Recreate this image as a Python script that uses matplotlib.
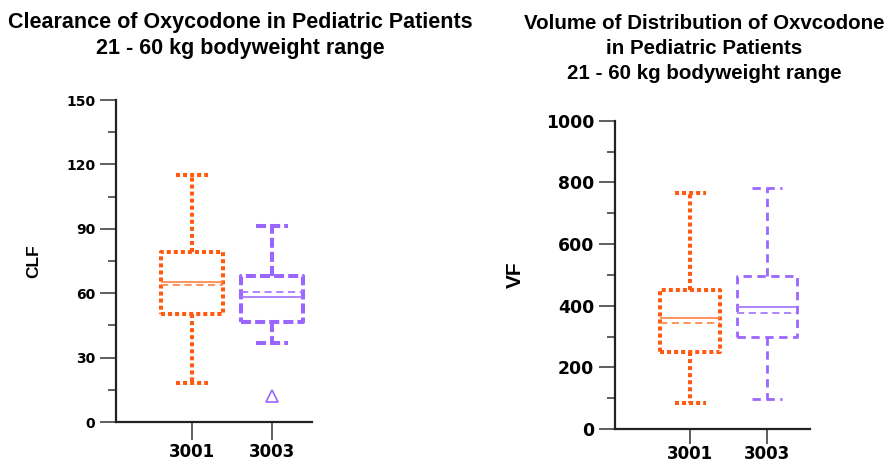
import matplotlib
matplotlib.use("Agg")
import matplotlib.pyplot as plt

groups = ["3001", "3003"]

# clearance (CLF)
clf_q1 = [50.3, 46.7]
clf_med = [65.0, 58.2]
clf_q3 = [79.0, 68.0]
clf_lo = [18.0, 36.6]
clf_hi = [115.0, 91.5]
clf_mean = [63.8, 60.4]
clf_fliers = [[], [12.1]]

# volume of distribution (VF)
vf_q1 = [249, 299]
vf_med = [359, 397]
vf_q3 = [451, 497]
vf_lo = [85, 97]
vf_hi = [767, 783]
vf_mean = [343, 375]
vf_fliers = [[], []]

orange = "#ff5a0f"
orange_lt = "#ff8a50"
purple = "#9a66ff"
purple_lt = "#a57cff"


def make_stats(q1, med, q3, lo, hi, mean, fliers):
    out = []
    for i in range(len(q1)):
        out.append(dict(q1=q1[i], med=med[i], q3=q3[i], whislo=lo[i],
                        whishi=hi[i], mean=mean[i], fliers=fliers[i]))
    return out


def draw(ax, stats, purple_lw, purple_dash):
    styles = [
        (orange, orange_lt, 2.9, (0, (1, 0.75))),
        (purple, purple_lt, purple_lw, purple_dash),
    ]
    for i, (c, clt, lw, ls) in enumerate(styles):
        ln = dict(color=c, linewidth=lw, linestyle=ls, dash_capstyle="butt")
        ax.bxp([stats[i]], positions=[i + 1], widths=0.78, capwidths=0.4,
               showmeans=True, meanline=True, showfliers=True,
               boxprops=ln, whiskerprops=ln, capprops=ln,
               medianprops=dict(color=clt, linewidth=1.3),
               meanprops=dict(color=clt, linewidth=1.3, linestyle=(0, (4, 2.5))),
               flierprops=dict(marker="^", markerfacecolor="none",
                               markeredgecolor=c, markersize=8,
                               markeredgewidth=1.2))


def style_axes(ax, ymax, ystep, ylabel, ysize, ylabsize, xlen, xpad):
    for s in ["top", "right"]:
        ax.spines[s].set_visible(False)
    for s in ["left", "bottom"]:
        ax.spines[s].set_linewidth(1.6)
        ax.spines[s].set_color("#222222")
    ax.set_ylim(0, ymax)
    ax.set_yticks(range(0, ymax + 1, ystep))
    ax.set_yticks([ystep / 2 + k * ystep for k in range(ymax // ystep)], minor=True)
    ax.set_xticks([1, 2])
    ax.set_xticklabels(groups)
    ax.tick_params(axis="y", which="major", length=11.5, width=1.1,
                   color="#333333", pad=3.5, labelsize=ysize)
    ax.tick_params(axis="y", which="minor", length=5.5, width=1.1, color="#333333")
    ax.tick_params(axis="x", length=xlen, width=1.1, color="#333333",
                   pad=xpad, labelsize=12)
    for lab in ax.get_xticklabels() + ax.get_yticklabels():
        lab.set_fontweight("bold")
        lab.set_family("DejaVu Sans")
    ax.set_ylabel(ylabel, fontsize=ylabsize, fontweight="bold",
                  family="Liberation Sans")


fig = plt.figure(figsize=(8.85, 4.66), dpi=100)

ax1 = fig.add_axes([0.1311, 0.0944, 0.2215, 0.691])
draw(ax1, make_stats(clf_q1, clf_med, clf_q3, clf_lo, clf_hi, clf_mean, clf_fliers),
     2.9, (0, (2.5, 1.0)))
ax1.set_xlim(0.05, 2.5)
style_axes(ax1, 150, 30, "CLF", 10, 12.5, 13, 2)
ax1.yaxis.set_label_coords(-0.38, 0.5)

ax2 = fig.add_axes([0.6949, 0.0794, 0.2203, 0.6616])
draw(ax2, make_stats(vf_q1, vf_med, vf_q3, vf_lo, vf_hi, vf_mean, vf_fliers),
     2.0, (0, (3.0, 2.0)))
ax2.set_xlim(0.02, 2.56)
style_axes(ax2, 1000, 200, "VF", 12.4, 15, 11, 0.5)
ax2.yaxis.set_label_coords(-0.46, 0.5)

fig.text(0.272, 0.924, "Clearance of Oxycodone in Pediatric Patients\n21 - 60 kg bodyweight range",
         ha="center", va="center", fontsize=15.5, fontweight="bold",
         family="Liberation Sans", linespacing=1.27)
fig.text(0.796, 0.896, "Volume of Distribution of Oxvcodone\nin Pediatric Patients\n21 - 60 kg bodyweight range",
         ha="center", va="center", fontsize=14.8, fontweight="bold",
         family="Liberation Sans", linespacing=1.38)

fig.savefig("out.png", dpi=100)
